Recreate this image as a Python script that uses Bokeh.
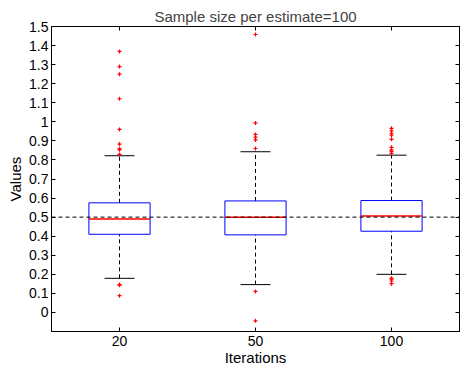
from bokeh.plotting import figure
from bokeh.models import (CategoricalAxis, LinearAxis, FixedTicker, Span, Range1d,
                          FactorRange, ColumnDataSource)
from bokeh.transform import dodge
from bokeh.embed import file_html
from bokeh.resources import INLINE

iterations = ["20", "50", "100"]
q1 = [0.410, 0.407, 0.426]
median = [0.490, 0.499, 0.506]
q3 = [0.575, 0.585, 0.587]
whisker_low = [0.179, 0.146, 0.200]
whisker_high = [0.822, 0.843, 0.825]
outliers_20 = [1.369, 1.290, 1.250, 1.121, 0.960, 0.883, 0.859, 0.853, 0.829, 0.146, 0.143, 0.088]
outliers_50 = [1.458, 0.994, 0.934, 0.920, 0.905, 0.860, 0.110, -0.044]
outliers_100 = [0.966, 0.952, 0.940, 0.930, 0.908, 0.866, 0.853, 0.845, 0.834,
                0.180, 0.175, 0.165, 0.151]
y_ticks = [0, 0.1, 0.2, 0.3, 0.4, 0.5, 0.6, 0.7, 0.8, 0.9, 1, 1.1, 1.2, 1.3, 1.4, 1.5]
y_tick_labels = ["0", "0.1", "0.2", "0.3", "0.4", "0.5", "0.6", "0.7", "0.8", "0.9",
                 "1", "1.1", "1.2", "1.3", "1.4", "1.5"]
reference_value = 0.5
title_text = "Sample size per estimate=100"

FONT = "Liberation Sans"

src = ColumnDataSource(dict(x=iterations, q1=q1, med=median, q3=q3,
                            lo=whisker_low, hi=whisker_high))
out_x = []
out_y = []
for cat, vals in zip(iterations, [outliers_20, outliers_50, outliers_100]):
    out_x += [cat] * len(vals)
    out_y += vals
osrc = ColumnDataSource(dict(x=out_x, y=out_y))

p = figure(x_range=FactorRange(factors=iterations, range_padding=0),
           y_range=Range1d(-0.1, 1.5), width=460, height=369,
           output_backend="svg", toolbar_location=None,
           min_border_left=51, min_border_right=1, min_border_top=26, min_border_bottom=38)
p.title.text = title_text
p.title.align = "center"
p.title.vertical_align = "middle"
p.title.text_font = FONT
p.title.text_font_size = "15px"
p.title.text_font_style = "normal"
p.title.standoff = 2
p.xgrid.visible = False
p.ygrid.visible = False
p.outline_line_color = "black"
p.background_fill_color = "white"
p.border_fill_color = "white"

# reference line
p.add_layout(Span(location=reference_value, dimension="width", line_color="black",
                  line_dash="4 3", line_width=1))

# whiskers
p.segment(x0="x", x1="x", y0="q3", y1="hi", source=src, line_color="black",
          line_dash="4 3", line_width=1)
p.segment(x0="x", x1="x", y0="lo", y1="q1", source=src, line_color="black",
          line_dash="4 3", line_width=1)
# caps
p.segment(x0=dodge("x", -0.11, range=p.x_range), x1=dodge("x", 0.11, range=p.x_range),
          y0="hi", y1="hi", source=src, line_color="black", line_width=1)
p.segment(x0=dodge("x", -0.11, range=p.x_range), x1=dodge("x", 0.11, range=p.x_range),
          y0="lo", y1="lo", source=src, line_color="black", line_width=1)
# boxes
p.vbar(x="x", width=0.45, bottom="q1", top="q3", source=src, fill_color=None,
       line_color="#0000ff", line_width=1)
# medians
p.segment(x0=dodge("x", -0.225, range=p.x_range), x1=dodge("x", 0.225, range=p.x_range),
          y0="med", y1="med", source=src, line_color="#ff0000", line_width=1.5)
# outliers
p.scatter(x="x", y="y", source=osrc, marker="cross", size=4, line_color="#ff0000",
          line_width=1.2)

def style_axis(ax, labels=True):
    ax.major_tick_in = 4
    ax.major_tick_out = 0
    ax.minor_tick_in = 0
    ax.minor_tick_out = 0
    ax.axis_line_color = "black"
    ax.major_tick_line_color = "black"
    ax.major_label_text_font = FONT
    if labels:
        ax.major_label_text_font_size = "14px"
        ax.major_label_text_color = "black"
    else:
        ax.major_label_text_font_size = "1px"
        ax.major_label_text_color = None
    ax.axis_label_text_font = FONT
    ax.axis_label_text_font_size = "15px"
    ax.axis_label_text_font_style = "normal"
    ax.axis_label_text_color = "black"

style_axis(p.xaxis[0])
p.xaxis[0].axis_label = "Iterations"
p.xaxis[0].major_label_standoff = 4
p.xaxis[0].axis_label_standoff = 0

style_axis(p.yaxis[0])
p.yaxis[0].ticker = FixedTicker(ticks=y_ticks)
p.yaxis[0].major_label_overrides = dict(zip(y_ticks, y_tick_labels))
p.yaxis[0].axis_label = "Values"
p.yaxis[0].major_label_standoff = 3
p.yaxis[0].axis_label_standoff = 2

top = CategoricalAxis()
style_axis(top, labels=False)
top.major_label_standoff = 0
p.add_layout(top, "above")

right = LinearAxis(ticker=FixedTicker(ticks=y_ticks))
style_axis(right, labels=False)
right.major_label_standoff = 0
p.add_layout(right, "right")

open("out.html", "w").write(file_html(p, INLINE))
